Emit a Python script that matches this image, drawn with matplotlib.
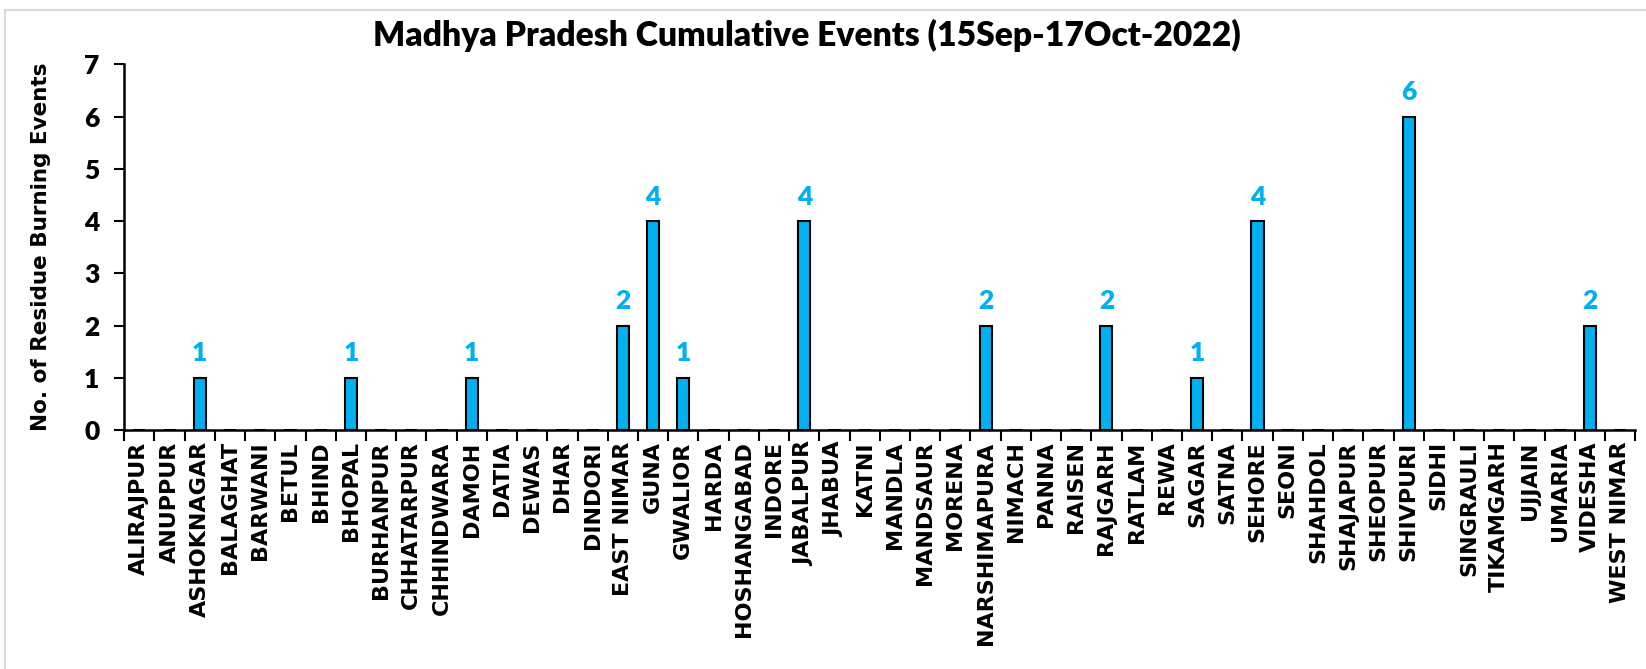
import matplotlib.pyplot as plt
import numpy as np
from matplotlib.patches import Rectangle

# districts and cumulative events
districts = ["ALIRAJPUR", "ANUPPUR", "ASHOKNAGAR", "BALAGHAT", "BARWANI", "BETUL",
             "BHIND", "BHOPAL", "BURHANPUR", "CHHATARPUR", "CHHINDWARA", "DAMOH",
             "DATIA", "DEWAS", "DHAR", "DINDORI", "EAST NIMAR", "GUNA", "GWALIOR",
             "HARDA", "HOSHANGABAD", "INDORE", "JABALPUR", "JHABUA", "KATNI",
             "MANDLA", "MANDSAUR", "MORENA", "NARSHIMAPURA", "NIMACH", "PANNA",
             "RAISEN", "RAJGARH", "RATLAM", "REWA", "SAGAR", "SATNA", "SEHORE",
             "SEONI", "SHAHDOL", "SHAJAPUR", "SHEOPUR", "SHIVPURI", "SIDHI",
             "SINGRAULI", "TIKAMGARH", "UJJAIN", "UMARIA", "VIDESHA", "WEST NIMAR"]
events = [0, 0, 1, 0, 0, 0, 0, 1, 0, 0, 0, 1, 0, 0, 0, 0, 2, 4, 1, 0, 0, 0, 4, 0, 0,
          0, 0, 0, 2, 0, 0, 0, 2, 0, 0, 1, 0, 4, 0, 0, 0, 0, 6, 0, 0, 0, 0, 0, 2, 0]
yticks = [0, 1, 2, 3, 4, 5, 6, 7]

blue = "#00B0F0"
fig = plt.figure(figsize=(16.46, 6.69), dpi=100)
ax = fig.add_axes([0.0755, 0.357, 0.918, 0.547])

x = np.arange(len(districts))
ax.bar(x, events, width=0.4, color=blue, edgecolor="black", linewidth=1.5, zorder=3)

for xi, v in zip(x, events):
    if v > 0:
        ax.annotate(str(v), (xi, v), xytext=(0, 9), textcoords="offset points",
                    ha="center", va="bottom", color=blue, fontsize=19,
                    fontweight="heavy", family="Lato")

ax.set_xlim(-0.5, len(districts) - 0.5)
ax.set_ylim(0, 7)
ax.set_yticks(yticks)
ax.set_yticklabels([str(t) for t in yticks], fontsize=19, fontweight="heavy", family="Lato")
ax.set_xticks(x)
ax.set_xticklabels(districts, rotation=90, fontsize=16, fontweight="bold",
                   family="DejaVu Sans")
ax.set_xticks(np.arange(-0.5, len(districts), 1), minor=True)
ax.tick_params(axis="x", which="major", length=0, pad=8)
ax.tick_params(axis="x", which="minor", length=8, width=1.5, direction="out")
ax.tick_params(axis="y", length=7, width=1.5, direction="out", pad=11)

for s in ["top", "right"]:
    ax.spines[s].set_visible(False)
for s in ["left", "bottom"]:
    ax.spines[s].set_linewidth(1.8)

ax.set_ylabel("No. of Residue Burning Events", fontsize=15.5, fontweight="bold",
              family="DejaVu Sans", labelpad=24)
fig.text(0.490, 0.947, "Madhya Pradesh Cumulative Events (15Sep-17Oct-2022)",
         ha="center", va="center", fontsize=24.2, fontweight="heavy", family="Lato")

fig.patches.append(Rectangle((5 / 1646, -0.02), 1.1, 1 - 10 / 669 + 0.02,
                             transform=fig.transFigure, fill=False,
                             edgecolor="#D9D9D9", linewidth=1.5))

plt.savefig("out.png", dpi=100)
